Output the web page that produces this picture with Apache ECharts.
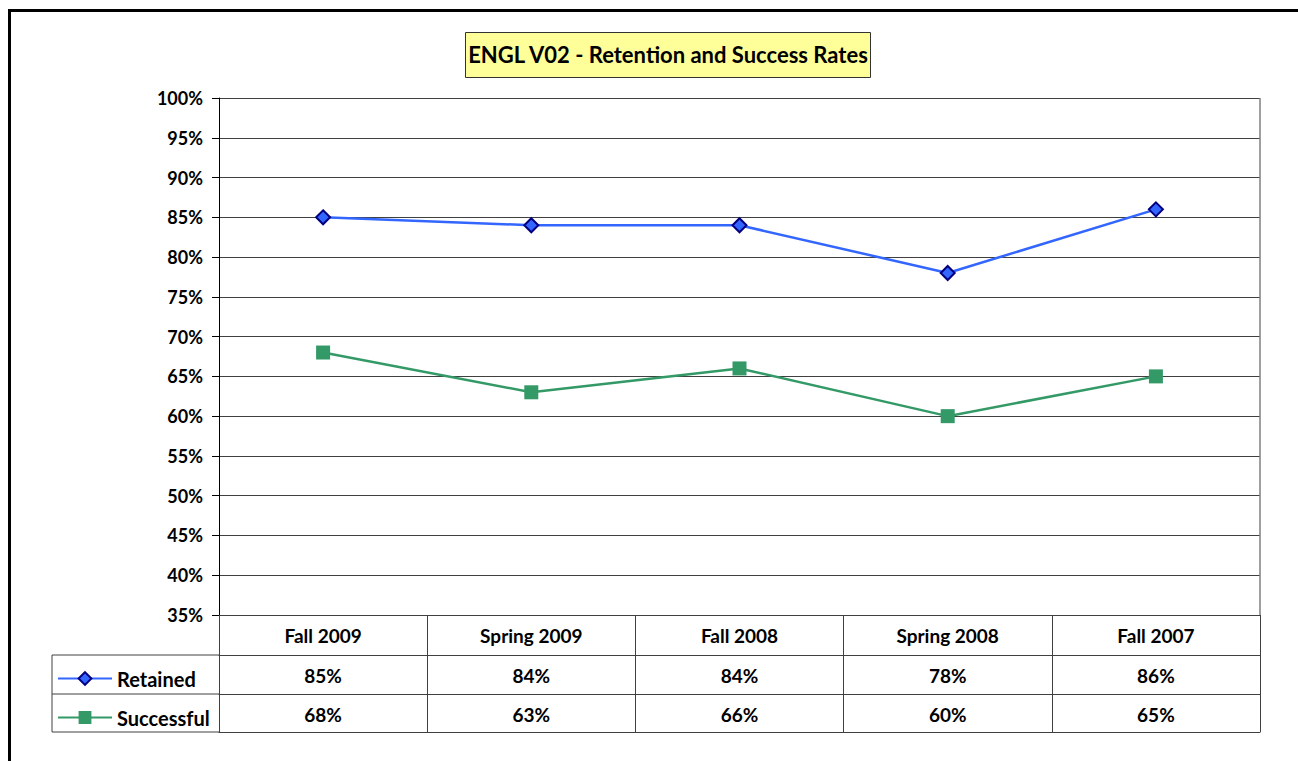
<!DOCTYPE html>
<html>
<head>
<meta charset="utf-8">
<script src="https://cdn.jsdelivr.net/npm/echarts@6/dist/echarts.min.js"></script>
<style>
html,body{margin:0;padding:0;background:#fff;}
#chart{width:1298px;height:761px;}
</style>
</head>
<body>
<div id="chart"></div>
<script>
var titleText = 'ENGL V02 - Retention and Success Rates';
var categories = ['Fall 2009', 'Spring 2009', 'Fall 2008', 'Spring 2008', 'Fall 2007'];
var retained = [85, 84, 84, 78, 86];
var successful = [68, 63, 66, 60, 65];
var yMin = 35, yMax = 100, yStep = 5;

var FONT = 'Lato';
var chart = echarts.init(document.getElementById('chart'), null, {renderer: 'svg'});
var pct = function (v) { return v + '%'; };
var lineCol = '#404040';

var option = {
  backgroundColor: '#ffffff',
  animation: false,
  textStyle: {fontFamily: FONT},
  grid: {left: 219, right: 38, top: 98, bottom: 146, containLabel: false},
  legend: {
    orient: 'vertical',
    left: 52, top: 662,
    itemWidth: 54, itemHeight: 16, itemGap: 16,
    textStyle: {fontFamily: FONT, fontWeight: 'bold', fontSize: 20, color: '#000', lineHeight: 23},
    data: ['Retained', 'Successful']
  },
  xAxis: [
    {
      type: 'category', data: categories, boundaryGap: true, position: 'bottom',
      axisLine: {show: true, lineStyle: {color: lineCol, width: 1}},
      axisTick: {show: true, alignWithLabel: false, length: 117, lineStyle: {color: lineCol, width: 1}},
      axisLabel: {margin: 11, fontFamily: FONT, fontWeight: 'bold', fontSize: 19, color: '#000'},
      splitLine: {show: false}
    },
    {
      type: 'category', data: retained.map(pct), boundaryGap: true, position: 'bottom', offset: 40,
      axisLine: {show: true, lineStyle: {color: lineCol, width: 1}},
      axisTick: {show: false},
      axisLabel: {margin: 11, fontFamily: FONT, fontWeight: 'bold', fontSize: 19, color: '#000'}
    },
    {
      type: 'category', data: successful.map(pct), boundaryGap: true, position: 'bottom', offset: 79,
      axisLine: {show: true, lineStyle: {color: lineCol, width: 1}},
      axisTick: {show: false},
      axisLabel: {margin: 11, fontFamily: FONT, fontWeight: 'bold', fontSize: 19, color: '#000'}
    },
    {
      type: 'category', data: categories, boundaryGap: true, position: 'bottom', offset: 117,
      axisLine: {show: true, lineStyle: {color: lineCol, width: 1}},
      axisTick: {show: false},
      axisLabel: {show: false}
    }
  ],
  yAxis: {
    type: 'value', min: yMin, max: yMax, interval: yStep,
    axisLine: {show: true, lineStyle: {color: '#000', width: 1}},
    axisTick: {show: true, length: 7, lineStyle: {color: '#000'}},
    axisLabel: {formatter: pct, margin: 16, fontFamily: FONT, fontWeight: 'bold', fontSize: 18, color: '#000'},
    splitLine: {show: true, lineStyle: {color: lineCol, width: 1}}
  },
  graphic: [
    {type: 'rect', shape: {x: 1260, y: 98, width: 0, height: 517}, style: {stroke: '#808080', lineWidth: 1, fill: null}, z: 10},
    {type: 'line', shape: {x1: 52, y1: 655, x2: 219, y2: 655}, style: {stroke: lineCol, lineWidth: 1}},
    {type: 'line', shape: {x1: 52, y1: 694, x2: 219, y2: 694}, style: {stroke: lineCol, lineWidth: 1}},
    {type: 'line', shape: {x1: 52, y1: 732, x2: 219, y2: 732}, style: {stroke: lineCol, lineWidth: 1}},
    {type: 'line', shape: {x1: 52, y1: 655, x2: 52, y2: 732}, style: {stroke: lineCol, lineWidth: 1}},
    {type: 'rect', shape: {x: 9.5, y: 10.5, width: 1400, height: 900}, style: {stroke: '#000', lineWidth: 3, fill: null}},
    {
      type: 'group', left: 465, top: 32,
      children: [
        {type: 'rect', shape: {x: 0, y: 0, width: 405, height: 45}, style: {fill: '#FFFF99', stroke: '#333', lineWidth: 1}},
        {type: 'text', x: 202.5, y: 22, style: {text: titleText, fontFamily: FONT, fontWeight: 'bold', fontSize: 22, fill: '#000', textAlign: 'center', textVerticalAlign: 'middle'}}
      ]
    }
  ],
  series: [
    {
      name: 'Retained', type: 'line', data: retained,
      symbol: 'diamond', symbolSize: 14,
      lineStyle: {color: '#3366FF', width: 2.5},
      itemStyle: {color: '#3366FF', borderColor: '#000080', borderWidth: 2},
      z: 3
    },
    {
      name: 'Successful', type: 'line', data: successful,
      symbol: 'rect', symbolSize: 14,
      lineStyle: {color: '#339966', width: 2.5},
      itemStyle: {color: '#339966', borderColor: '#339966', borderWidth: 0},
      z: 3
    }
  ]
};
chart.setOption(option);
</script>
</body>
</html>
